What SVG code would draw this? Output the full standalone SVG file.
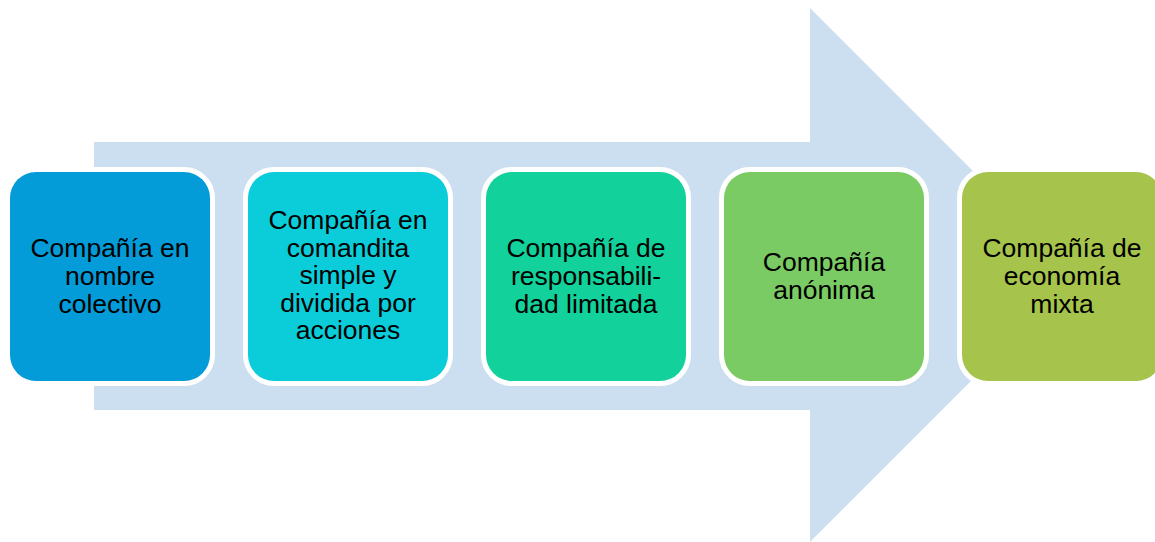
<svg xmlns="http://www.w3.org/2000/svg" width="1155" height="542" viewBox="0 0 1155 542">
<style>
.box{stroke:#fff;stroke-width:10;paint-order:stroke fill}
.t{font-family:"Liberation Sans",Arial,sans-serif;font-size:26.5px;fill:#000;text-anchor:middle}
</style>
<rect width="1155" height="542" fill="#fff"/>
<g id="connectors">
<polygon points="94,142 810,142 810,8 1077,275 810,542 810,410 94,410" fill="#CCDFF0"/>
</g>
<g id="n1">
<rect class="box" x="10" y="172" width="200" height="209" rx="26" fill="#049CD8"/>
<text class="t" x="110" y="257">Compañía en</text>
<text class="t" x="110" y="285">nombre</text>
<text class="t" x="110" y="313">colectivo</text>
</g>
<g id="n2">
<rect class="box" x="248" y="172" width="200" height="209" rx="26" fill="#0BCDD9"/>
<text class="t" x="348" y="229">Compañía en</text>
<text class="t" x="348" y="257">comandita</text>
<text class="t" x="348" y="284">simple y</text>
<text class="t" x="348" y="312">dividida por</text>
<text class="t" x="348" y="339">acciones</text>
</g>
<g id="n3">
<rect class="box" x="486" y="172" width="200" height="209" rx="26" fill="#12D19A"/>
<text class="t" x="586" y="257">Compañía de</text>
<text class="t" x="586" y="285">responsabili-</text>
<text class="t" x="586" y="313">dad limitada</text>
</g>
<g id="n4">
<rect class="box" x="724" y="172" width="200" height="209" rx="26" fill="#7ACB63"/>
<text class="t" x="824" y="271">Compañía</text>
<text class="t" x="824" y="299">anónima</text>
</g>
<g id="n5">
<rect class="box" x="962" y="172" width="200" height="209" rx="26" fill="#A6C34B"/>
<text class="t" x="1062" y="257">Compañía de</text>
<text class="t" x="1062" y="285">economía</text>
<text class="t" x="1062" y="313">mixta</text>
</g>
</svg>
